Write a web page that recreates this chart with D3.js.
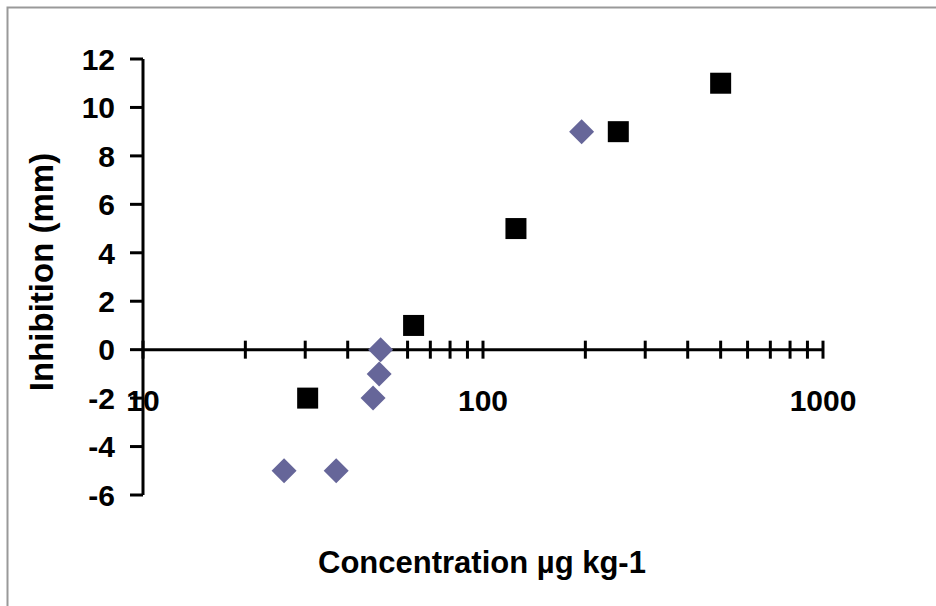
<!DOCTYPE html>
<html>
<head>
<meta charset="utf-8">
<script src="https://cdn.jsdelivr.net/npm/d3@7"></script>
<style>
  body { margin: 0; background: #fff; }
  text { font-family: "Liberation Sans", Arial, sans-serif; font-weight: bold; }
</style>
</head>
<body>
<div id="chart"></div>
<script>
// diamonds (series 1)
var diamondConc = [26, 37, 47.5, 49.5, 50, 195];
var diamondInhib = [-5, -5, -2, -1, 0, 9];
// squares (series 2)
var squareConc = [30.5, 62.5, 125, 250, 500];
var squareInhib = [-2, 1, 5, 9, 11];

var yTicks = [-6, -4, -2, 0, 2, 4, 6, 8, 10, 12];
var xLabels = [10, 100, 1000];
var xMinor = [20, 30, 40, 50, 60, 70, 80, 90, 200, 300, 400, 500, 600, 700, 800, 900];

var width = 936, height = 606;

var svg = d3.select("#chart").append("svg")
    .attr("width", width)
    .attr("height", height);

// chart border (only top and left are visible in the frame)
svg.append("rect")
    .attr("x", 7.5).attr("y", 7.5)
    .attr("width", 1000).attr("height", 1000)
    .attr("fill", "none")
    .attr("stroke", "#999")
    .attr("stroke-width", 2);

var x = d3.scaleLog().domain([10, 1000]).range([143, 823]);
var y = d3.scaleLinear().domain([-6, 12]).range([495, 59]);

// y axis
var yAxis = svg.append("g").attr("transform", "translate(143,0)");
yAxis.append("line")
    .attr("y1", y(-6)).attr("y2", y(12))
    .attr("stroke", "#000").attr("stroke-width", 3);
yAxis.selectAll(".yt").data(yTicks).enter().append("line")
    .attr("x1", -13).attr("x2", 0)
    .attr("y1", function (d) { return y(d); })
    .attr("y2", function (d) { return y(d); })
    .attr("stroke", "#000").attr("stroke-width", 3);
yAxis.selectAll(".yl").data(yTicks).enter().append("text")
    .attr("x", -28)
    .attr("y", function (d) { return y(d); })
    .attr("dy", "0.36em")
    .attr("text-anchor", "end")
    .attr("font-size", 30)
    .text(function (d) { return d; });

// x axis crossing at 0
var xAxis = svg.append("g").attr("transform", "translate(0," + y(0) + ")");
xAxis.append("line")
    .attr("x1", x(10)).attr("x2", x(1000))
    .attr("stroke", "#000").attr("stroke-width", 3);
xAxis.selectAll(".xt").data(xLabels.concat(xMinor)).enter().append("line")
    .attr("x1", function (d) { return x(d); })
    .attr("x2", function (d) { return x(d); })
    .attr("y1", -9).attr("y2", 9)
    .attr("stroke", "#000").attr("stroke-width", 3);
xAxis.selectAll(".xl").data(xLabels).enter().append("text")
    .attr("x", function (d) { return x(d); })
    .attr("y", 61)
    .attr("text-anchor", "middle")
    .attr("font-size", 30)
    .text(function (d) { return d; });

// axis titles
svg.append("text")
    .attr("x", 482).attr("y", 573)
    .attr("text-anchor", "middle")
    .attr("font-size", 31)
    .text("Concentration µg kg-1");
svg.append("text")
    .attr("transform", "translate(53,272) rotate(-90)")
    .attr("text-anchor", "middle")
    .attr("font-size", 33)
    .text("Inhibition (mm)");

// diamonds
var diamonds = diamondConc.map(function (c, i) { return { c: c, v: diamondInhib[i] }; });
svg.append("g").selectAll("path").data(diamonds).enter().append("path")
    .attr("d", d3.symbol().type(d3.symbolSquare).size(312))
    .attr("transform", function (d) { return "translate(" + x(d.c) + "," + y(d.v) + ") rotate(45)"; })
    .attr("fill", "#666699");

// squares
var squares = squareConc.map(function (c, i) { return { c: c, v: squareInhib[i] }; });
svg.append("g").selectAll("rect").data(squares).enter().append("rect")
    .attr("x", function (d) { return x(d.c) - 10.5; })
    .attr("y", function (d) { return y(d.v) - 10.5; })
    .attr("width", 21).attr("height", 21)
    .attr("fill", "#000");
</script>
</body>
</html>
